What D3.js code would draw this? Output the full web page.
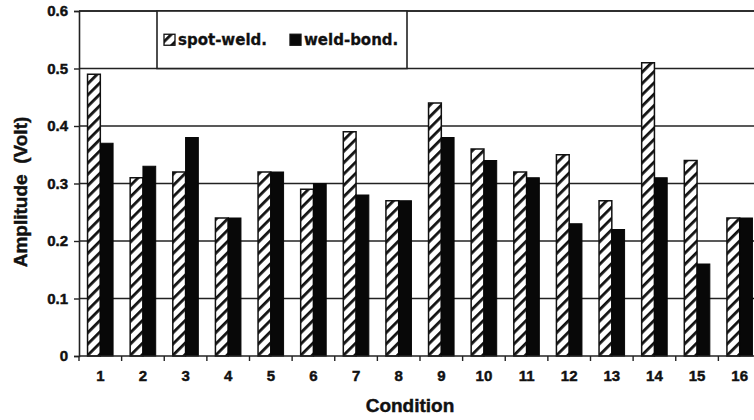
<!DOCTYPE html>
<html>
<head>
<meta charset="utf-8">
<script src="https://cdn.jsdelivr.net/npm/d3@7"></script>
<style>
  html, body { margin: 0; padding: 0; background: #fff; }
  svg { display: block; font-family: "Liberation Sans", Arial, sans-serif; }
</style>
</head>
<body>
<div id="chart"></div>
<script>
// data
const conditions = ['1','2','3','4','5','6','7','8','9','10','11','12','13','14','15','16'];
const spotWeld = [0.49, 0.31, 0.32, 0.24, 0.32, 0.29, 0.39, 0.27, 0.44, 0.36, 0.32, 0.35, 0.27, 0.51, 0.34, 0.24];
const weldBond = [0.37, 0.33, 0.38, 0.24, 0.32, 0.30, 0.28, 0.27, 0.38, 0.34, 0.31, 0.23, 0.22, 0.31, 0.16, 0.24];
const seriesNames = ['spot-weld.', 'weld-bond.'];
const yTicks = [0, 0.1, 0.2, 0.3, 0.4, 0.5, 0.6];

const width = 754, height = 420;
const margin = { top: 11, right: -7, bottom: 64, left: 79 };
const ink = '#111';

const svg = d3.select('#chart').append('svg')
  .attr('width', width)
  .attr('height', height);

// hatch pattern for spot-weld
const defs = svg.append('defs');
const pat = defs.append('pattern')
  .attr('id', 'hatch')
  .attr('patternUnits', 'userSpaceOnUse')
  .attr('width', 8)
  .attr('height', 8)
  .attr('patternTransform', 'rotate(45)');
pat.append('rect').attr('width', 8).attr('height', 8).attr('fill', '#fff');
pat.append('rect').attr('x', 0).attr('y', 0).attr('width', 2.8).attr('height', 8).attr('fill', ink);

const x0 = d3.scaleBand()
  .domain(conditions)
  .range([margin.left, width - margin.right]);

const x1 = d3.scaleBand()
  .domain(seriesNames)
  .range([0, x0.bandwidth()])
  .paddingOuter(0.67);

const y = d3.scaleLinear()
  .domain([0, 0.6])
  .range([height - margin.bottom, margin.top]);

const plotRight = width + 10;

// bold scanned-looking text
function boldText(sel, size) {
  sel.attr('font-size', size)
    .attr('font-weight', 'bold')
    .attr('fill', ink)
    .attr('stroke', ink)
    .attr('stroke-width', 0.45);
}

// ===== gridlines =====
svg.append('g')
  .selectAll('line')
  .data(yTicks.filter(d => d > 0))
  .join('line')
  .attr('x1', margin.left)
  .attr('x2', plotRight)
  .attr('y1', d => y(d))
  .attr('y2', d => y(d))
  .attr('stroke', '#222')
  .attr('stroke-width', 1.6);

// ===== bars =====
const groups = svg.append('g')
  .selectAll('g')
  .data(conditions)
  .join('g')
  .attr('transform', d => `translate(${x0(d)},0)`);

groups.append('rect')
  .attr('x', x1('spot-weld.'))
  .attr('width', x1.bandwidth())
  .attr('y', (d, i) => y(spotWeld[i]))
  .attr('height', (d, i) => y(0) - y(spotWeld[i]))
  .attr('fill', 'url(#hatch)')
  .attr('stroke', ink)
  .attr('stroke-width', 1.5);

groups.append('rect')
  .attr('x', x1('weld-bond.'))
  .attr('width', x1.bandwidth())
  .attr('y', (d, i) => y(weldBond[i]))
  .attr('height', (d, i) => y(0) - y(weldBond[i]))
  .attr('fill', '#080808')
  .attr('stroke', '#080808')
  .attr('stroke-width', 1);

// ===== y axis =====
const yAxis = svg.append('g')
  .attr('transform', `translate(${margin.left},0)`)
  .call(d3.axisLeft(y)
    .tickValues(yTicks)
    .tickSize(5)
    .tickPadding(6)
    .tickFormat(d => d === 0 ? '0' : d.toFixed(1)));
yAxis.select('.domain').attr('stroke', '#222').attr('stroke-width', 1.6);
yAxis.selectAll('.tick line').attr('stroke', '#222').attr('stroke-width', 1.4);
yAxis.selectAll('text').call(boldText, 15);

// ===== x axis =====
const xAxis = svg.append('g')
  .attr('transform', `translate(0,${y(0)})`)
  .call(d3.axisBottom(x0).tickSize(0).tickPadding(14));
xAxis.select('.domain').remove();
xAxis.selectAll('text').call(boldText, 15);

svg.append('line')
  .attr('x1', margin.left)
  .attr('x2', plotRight)
  .attr('y1', y(0))
  .attr('y2', y(0))
  .attr('stroke', '#222')
  .attr('stroke-width', 1.6);

// tick marks between categories
svg.append('g')
  .selectAll('line')
  .data(conditions)
  .join('line')
  .attr('x1', d => x0(d))
  .attr('x2', d => x0(d))
  .attr('y1', y(0))
  .attr('y2', y(0) + 5)
  .attr('stroke', '#222')
  .attr('stroke-width', 1.4);

// top frame
svg.append('line')
  .attr('x1', margin.left)
  .attr('x2', plotRight)
  .attr('y1', y(0.6))
  .attr('y2', y(0.6))
  .attr('stroke', '#222')
  .attr('stroke-width', 1.6);

// ===== axis titles =====
svg.append('text')
  .attr('x', 410)
  .attr('y', 412)
  .attr('text-anchor', 'middle')
  .call(boldText, 19)
  .text('Condition');

svg.append('text')
  .attr('transform', `translate(27,192) rotate(-90)`)
  .attr('text-anchor', 'middle')
  .call(boldText, 19)
  .style('white-space', 'pre')
  .text('Amplitude  (Volt)');

// ===== legend =====
const lg = svg.append('g');
lg.append('rect')
  .attr('x', 157)
  .attr('y', y(0.6))
  .attr('width', 250)
  .attr('height', y(0.5) - y(0.6))
  .attr('fill', '#fff')
  .attr('stroke', '#222')
  .attr('stroke-width', 1.6);

const legendItems = [
  { name: seriesNames[0], fill: 'url(#hatch)', x: 164 },
  { name: seriesNames[1], fill: '#080808', x: 290 }
];
const ly = (y(0.6) + y(0.5)) / 2;
legendItems.forEach(it => {
  lg.append('rect')
    .attr('x', it.x)
    .attr('y', ly - 5.5)
    .attr('width', 11)
    .attr('height', 11)
    .attr('fill', it.fill)
    .attr('stroke', ink)
    .attr('stroke-width', 1.3);
  lg.append('text')
    .attr('x', it.x + 14)
    .attr('y', ly + 5.5)
    .attr('font-family', '"DejaVu Sans", sans-serif')
    .call(boldText, 15)
    .attr('stroke-width', 0.3)
    .text(it.name);
});
</script>
</body>
</html>
